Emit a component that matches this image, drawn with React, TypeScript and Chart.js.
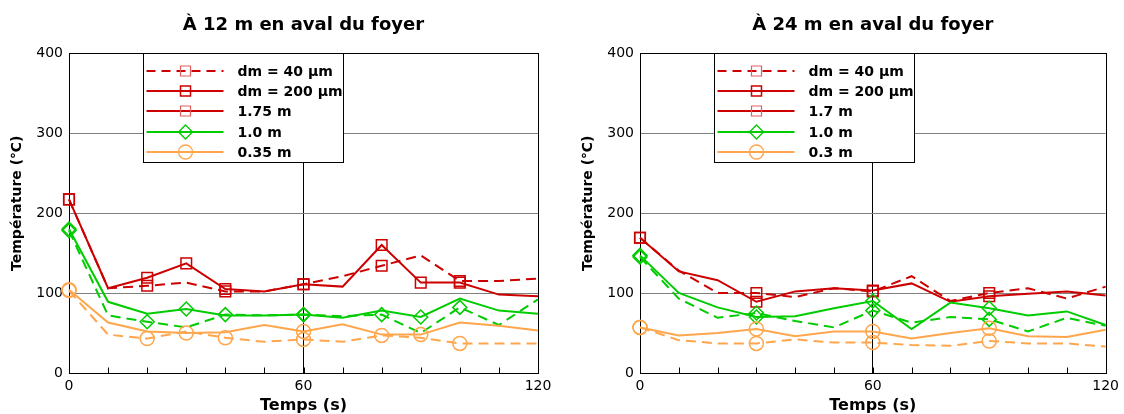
import React, { useEffect, useRef } from 'react';
import { Chart, registerables } from 'chart.js';

Chart.register(...registerables);

// ---------- data ----------
const times = [0, 10, 20, 30, 40, 50, 60, 70, 80, 90, 100, 110, 120];

// 12 m downstream
const red40At12 = [217, 106, 109, 113, 102, 102, 111, 121, 134, 147, 115, 115, 118];
const red200At12 = [217, 106, 119, 137, 105, 102, 111, 108, 160, 113, 113, 98, 96];
const green40At12 = [178, 72, 64, 57, 73, 72, 73, 71, 73, 50, 82, 60, 92];
const green200At12 = [180, 89, 74, 80, 72, 72, 73, 69, 78, 70, 93, 78, 74];
const orange40At12 = [103, 48, 43, 52, 44, 39, 42, 39, 47, 44, 37, 37, 37];
const orange200At12 = [104, 63, 52, 50, 51, 60, 52, 61, 48, 48, 63, 59, 53];

// 24 m downstream
const red40At24 = [169, 128, 100, 100, 95, 106, 102, 121, 90, 100, 106, 93, 108];
const red200At24 = [169, 127, 116, 89, 102, 106, 103, 112, 89, 96, 99, 102, 97];
const green40At24 = [145, 93, 69, 75, 65, 57, 78, 63, 70, 67, 52, 69, 59];
const green200At24 = [147, 100, 82, 70, 71, 81, 90, 55, 88, 81, 72, 77, 60];
const orange40At24 = [57, 41, 37, 37, 42, 38, 38, 35, 34, 40, 37, 37, 33];
const orange200At24 = [57, 47, 50, 55, 46, 52, 52, 43, 50, 56, 46, 45, 54];

// indices of points carrying a symbol
const markersDashed12 = [0, 2, 4, 6, 8, 10];
const markersSolid12 = [0, 3, 6, 9];
const markersRedSolid12 = [0, 2, 3, 4, 6, 8, 9, 10];
const markers24 = [0, 3, 6, 9];

const legend12 = ['dm = 40 µm', 'dm = 200 µm', '1.75 m', '1.0 m', '0.35 m'];
const legend24 = ['dm = 40 µm', 'dm = 200 µm', '1.7 m', '1.0 m', '0.3 m'];
const title12 = 'À 12 m en aval du foyer';
const title24 = 'À 24 m en aval du foyer';
const xTitle = 'Temps (s)';
const yTitle = 'Température (℃)';

// ---------- styles ----------
const FONT = '"DejaVu Sans", sans-serif';
const RED = '#cc0000';
const RED_LIGHT = '#e06060';
const GREEN = '#00cc00';
const ORANGE = '#ffa64d';
const DASH = [10, 6];

function makeDataset(label: string, values: number[], color: string, dashed: boolean,
  style: string, radius: number, markerIdx: number[]) {
  return {
    label,
    data: values.map((v, i) => ({ x: times[i], y: v })),
    borderColor: color,
    borderWidth: 2,
    borderDash: dashed ? DASH : [],
    pointStyle: style,
    pointRadius: times.map((_, i) => (markerIdx.includes(i) ? radius : 0)),
    pointHoverRadius: 0,
    pointBorderColor: color,
    pointBackgroundColor: 'rgba(0,0,0,0)',
    pointBorderWidth: 1.5,
    tension: 0,
    fill: false,
    clip: false,
  };
}

const framePlugin = {
  id: 'frame',
  beforeDatasetsDraw(chart: any) {
    const { ctx, chartArea: a, scales } = chart;
    ctx.save();
    ctx.strokeStyle = '#000';
    ctx.lineWidth = 1;
    const l = Math.round(a.left) + 0.5;
    const t = Math.round(a.top) + 0.5;
    const r = Math.round(a.right) + 0.5;
    const b = Math.round(a.bottom) + 0.5;
    ctx.strokeRect(l, t, r - l, b - t);
    ctx.beginPath();
    for (const tm of times) {
      if (tm === 0 || tm === 120) continue;
      const px = Math.round(scales.x.getPixelForValue(tm)) + 0.5;
      ctx.moveTo(px, b);
      ctx.lineTo(px, b - 6);
    }
    ctx.stroke();
    ctx.restore();
  },
};

function drawMarker(ctx: CanvasRenderingContext2D, style: string, x: number, y: number) {
  ctx.beginPath();
  if (style === 'rect') {
    ctx.rect(x - 5, y - 5, 10, 10);
  } else if (style === 'rectRot') {
    ctx.moveTo(x, y - 7);
    ctx.lineTo(x + 7, y);
    ctx.lineTo(x, y + 7);
    ctx.lineTo(x - 7, y);
    ctx.closePath();
  } else {
    ctx.arc(x, y, 7, 0, Math.PI * 2);
  }
  ctx.stroke();
}

function makeLegendPlugin(labels: string[]) {
  const styles = [
    { color: RED, dash: [9, 6], marker: 'rect', mColor: RED_LIGHT, mWidth: 1.2 },
    { color: RED, dash: [], marker: 'rect', mColor: RED, mWidth: 1.5 },
    { color: RED, dash: [], marker: 'rect', mColor: RED_LIGHT, mWidth: 1.2 },
    { color: GREEN, dash: [], marker: 'rectRot', mColor: GREEN, mWidth: 1.3 },
    { color: ORANGE, dash: [], marker: 'circle', mColor: ORANGE, mWidth: 1.3 },
  ];
  return {
    id: 'boxLegend',
    afterDraw(chart: any) {
      const { ctx, chartArea: a } = chart;
      const left = Math.round(a.left + 74) + 0.5;
      const top = Math.round(a.top) + 0.5;
      const w = 200;
      const h = 109;
      ctx.save();
      ctx.fillStyle = '#fff';
      ctx.fillRect(left, top, w, h);
      ctx.strokeStyle = '#000';
      ctx.lineWidth = 1;
      ctx.strokeRect(left, top, w, h);
      labels.forEach((lab, i) => {
        const s = styles[i];
        const y = Math.round(a.top + 18 + i * 20.2);
        ctx.strokeStyle = s.color;
        ctx.lineWidth = 2;
        ctx.setLineDash(s.dash);
        ctx.beginPath();
        ctx.moveTo(left + 3, y);
        ctx.lineTo(left + 80, y);
        ctx.stroke();
        ctx.setLineDash([]);
        ctx.strokeStyle = s.mColor;
        ctx.lineWidth = s.mWidth;
        drawMarker(ctx, s.marker, left + 42, y);
        ctx.fillStyle = '#000';
        ctx.font = `bold 14px ${FONT}`;
        ctx.textBaseline = 'middle';
        ctx.textAlign = 'left';
        ctx.fillText(lab, left + 94, y + 1);
      });
      ctx.restore();
    },
  };
}

function buildConfig(title: string, datasets: any[], legendLabels: string[], padRight: number) {
  return {
    type: 'line',
    data: { datasets },
    options: {
      responsive: false,
      animation: false,
      devicePixelRatio: 1,
      events: [],
      layout: { padding: { left: 0, right: padRight, top: 0, bottom: 0 } },
      plugins: {
        legend: { display: false },
        tooltip: { enabled: false },
        title: {
          display: true,
          text: title,
          fullSize: false,
          color: '#000',
          font: { family: FONT, size: 18, weight: 'bold', lineHeight: 1.2 },
          padding: { top: 15, bottom: 16.4 },
        },
      },
      scales: {
        x: {
          type: 'linear',
          min: 0,
          max: 120,
          ticks: {
            stepSize: 60,
            color: '#000',
            padding: 5,
            maxRotation: 0,
            font: { family: FONT, size: 14 },
          },
          grid: {
            drawTicks: false,
            lineWidth: 1,
            color: (c: any) => (c.tick && c.tick.value === 60 ? '#000' : 'rgba(0,0,0,0)'),
          },
          border: { display: false },
          title: {
            display: true,
            text: xTitle,
            color: '#000',
            font: { family: FONT, size: 16, weight: 'bold', lineHeight: 1 },
            padding: { top: 0, bottom: 0 },
          },
          afterFit: (s: any) => { s.height = 41; },
        },
        y: {
          type: 'linear',
          min: 0,
          max: 400,
          ticks: {
            stepSize: 100,
            color: '#000',
            padding: 6,
            font: { family: FONT, size: 14 },
          },
          grid: {
            drawTicks: false,
            lineWidth: 1,
            color: (c: any) => (c.tick && c.tick.value > 0 && c.tick.value < 400 ? '#808080' : 'rgba(0,0,0,0)'),
          },
          border: { display: false },
          title: {
            display: true,
            text: '    ' + yTitle,
            color: '#000',
            font: { family: FONT, size: 14, weight: 'bold', lineHeight: 1.2 },
            padding: { top: 9, bottom: 0 },
          },
          afterFit: (s: any) => { s.width = 69; },
        },
      },
    },
    plugins: [framePlugin, makeLegendPlugin(legendLabels)],
  };
}

export default function App() {
  const leftRef = useRef<HTMLCanvasElement>(null);
  const rightRef = useRef<HTMLCanvasElement>(null);

  useEffect(() => {
    const ds12 = [
      makeDataset('dm = 40 µm, 0.35 m', orange40At12, ORANGE, true, 'circle', 7, markersDashed12),
      makeDataset('dm = 200 µm, 0.35 m', orange200At12, ORANGE, false, 'circle', 7, markersSolid12),
      makeDataset('dm = 40 µm, 1.0 m', green40At12, GREEN, true, 'rectRot', 7, markersDashed12),
      makeDataset('dm = 200 µm, 1.0 m', green200At12, GREEN, false, 'rectRot', 7, markersSolid12),
      makeDataset('dm = 40 µm, 1.75 m', red40At12, RED, true, 'rect', 7.5, markersDashed12),
      makeDataset('dm = 200 µm, 1.75 m', red200At12, RED, false, 'rect', 7.5, markersRedSolid12),
    ];
    const ds24 = [
      makeDataset('dm = 40 µm, 0.3 m', orange40At24, ORANGE, true, 'circle', 7, markers24),
      makeDataset('dm = 200 µm, 0.3 m', orange200At24, ORANGE, false, 'circle', 7, markers24),
      makeDataset('dm = 40 µm, 1.0 m', green40At24, GREEN, true, 'rectRot', 7, markers24),
      makeDataset('dm = 200 µm, 1.0 m', green200At24, GREEN, false, 'rectRot', 7, markers24),
      makeDataset('dm = 40 µm, 1.7 m', red40At24, RED, true, 'rect', 7.5, markers24),
      makeDataset('dm = 200 µm, 1.7 m', red200At24, RED, false, 'rect', 7.5, markers24),
    ];
    const c1 = new Chart(leftRef.current as HTMLCanvasElement, buildConfig(title12, ds12, legend12, 24) as any);
    const c2 = new Chart(rightRef.current as HTMLCanvasElement, buildConfig(title24, ds24, legend24, 16) as any);
    return () => {
      c1.destroy();
      c2.destroy();
    };
  }, []);

  return (
    <div style={{ position: 'fixed', left: 0, top: 0, width: 1124, height: 414, background: '#fff', overflow: 'hidden' }}>
      <canvas ref={leftRef} width={562} height={414} style={{ position: 'absolute', left: 0, top: 0, width: 562, height: 414 }} />
      <canvas ref={rightRef} width={553} height={414} style={{ position: 'absolute', left: 571, top: 0, width: 553, height: 414 }} />
    </div>
  );
}
